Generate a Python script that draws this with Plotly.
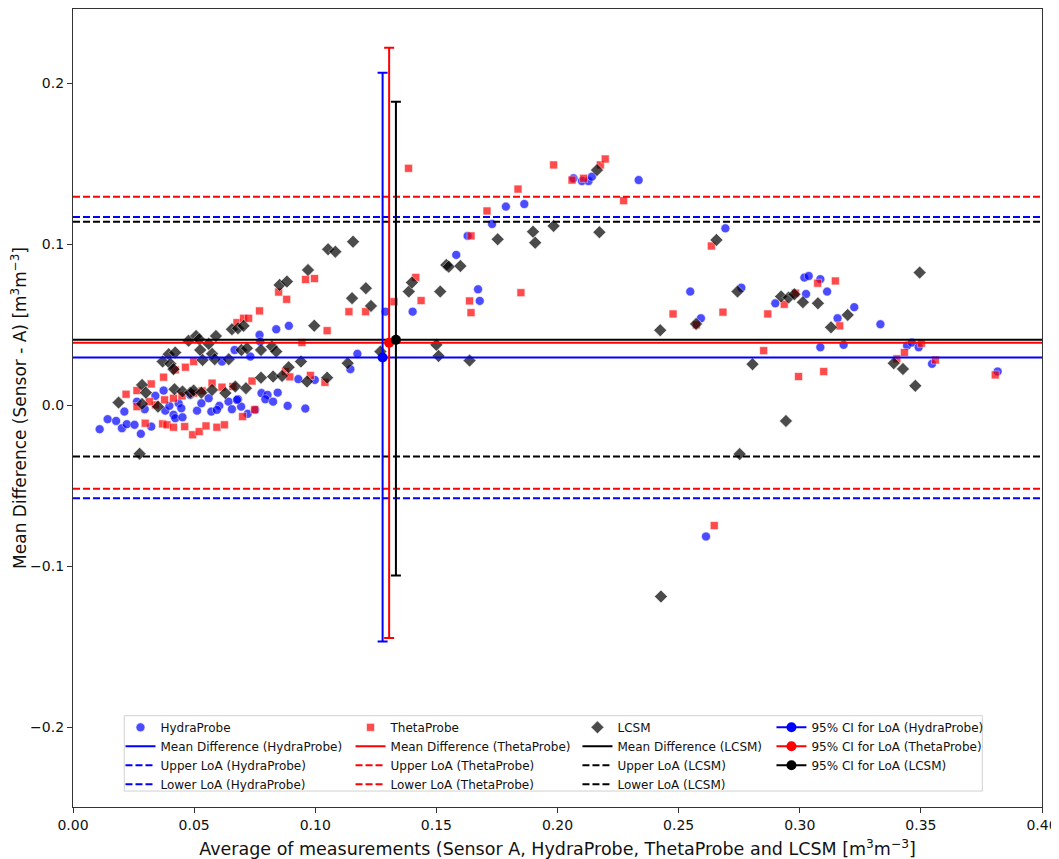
import plotly.graph_objects as go

# HydraProbe: average of measurements vs difference
hydra_x = [0.0110, 0.0143, 0.0178, 0.0202, 0.0212, 0.0222, 0.0254, 0.0280, 0.0323, 0.0264,
           0.0296, 0.0340, 0.0374, 0.0381, 0.0398, 0.0415, 0.0422, 0.0452, 0.0436, 0.0447,
           0.0484, 0.0512, 0.0530, 0.0560, 0.0571, 0.0604, 0.0594, 0.0642, 0.0681, 0.0656,
           0.0694, 0.0615, 0.0667, 0.0732, 0.0721, 0.0752, 0.0770, 0.0773, 0.0839, 0.0891,
           0.0778, 0.0803, 0.0794, 0.0845, 0.0826, 0.0886, 0.0959, 0.0930, 0.0998, 0.1145,
           0.1174, 0.1290, 0.1402, 0.1582, 0.1629, 0.1672, 0.1679, 0.1730, 0.1787, 0.1863,
           0.2066, 0.2101, 0.2128, 0.2142, 0.2335, 0.2693, 0.2548, 0.2592, 0.2759, 0.2899,
           0.3019, 0.3037, 0.3085, 0.3026, 0.3113, 0.3225, 0.3156, 0.3333, 0.3085, 0.3181,
           0.3443, 0.3463, 0.3491, 0.3546, 0.3817, 0.2613, 0.0677]
hydra_y = [-0.0149, -0.0087, -0.0098, -0.0143, -0.0040, -0.0118, -0.0122, -0.0178, -0.0133, 0.0022,
           -0.0025, 0.0058, 0.0091, -0.0034, -0.0004, -0.0060, -0.0081, -0.0075, 0.0012, -0.0019,
           0.0064, -0.0034, 0.0012, 0.0043, -0.0040, -0.0004, -0.0029, 0.0022, 0.0037, -0.0025,
           -0.0009, 0.0271, 0.0343, 0.0302, -0.0054, -0.0029, 0.0437, 0.0395, 0.0472, 0.0493,
           0.0075, 0.0064, 0.0037, 0.0078, 0.0022, -0.0004, -0.0021, 0.0162, 0.0157, 0.0224,
           0.0319, 0.0581, 0.0581, 0.0934, 0.1052, 0.0720, 0.0648, 0.1126, 0.1234, 0.1250,
           0.1410, 0.1393, 0.1393, 0.1420, 0.1399, 0.1099, 0.0706, 0.0540, 0.0730, 0.0633,
           0.0793, 0.0803, 0.0783, 0.0691, 0.0706, 0.0609, 0.0540, 0.0503, 0.0360, 0.0375,
           0.0370, 0.0389, 0.0360, 0.0257, 0.0209, -0.0816, 0.0033]

# ThetaProbe
theta_x = [0.0219, 0.0264, 0.0264, 0.0298, 0.0323, 0.0340, 0.0374, 0.0370, 0.0388, 0.0415,
           0.0422, 0.0464, 0.0498, 0.0461, 0.0494, 0.0521, 0.0549, 0.0594, 0.0625, 0.0700,
           0.0750, 0.0739, 0.0574, 0.0615, 0.0660, 0.0315, 0.0378, 0.0415, 0.0450, 0.0498,
           0.0533, 0.0677, 0.0704, 0.0725, 0.0770, 0.0945, 0.1049, 0.0849, 0.0882, 0.0960,
           0.0997, 0.1139, 0.1208, 0.1325, 0.1385, 0.1415, 0.1437, 0.0980, 0.1040, 0.0877,
           0.0895, 0.1637, 0.1643, 0.1643, 0.1709, 0.1837, 0.1849, 0.1984, 0.2060, 0.2108,
           0.2177, 0.2197, 0.2273, 0.2635, 0.2477, 0.2573, 0.2683, 0.2851, 0.2868, 0.2936,
           0.2982, 0.2995, 0.3074, 0.3147, 0.3099, 0.3165, 0.3401, 0.3432, 0.3502, 0.3560,
           0.3807, 0.2647]
theta_y = [0.0068, 0.0091, -0.0009, -0.0112, 0.0132, 0.0002, 0.0174, -0.0116, -0.0122, -0.0137,
           0.0219, 0.0236, 0.0271, -0.0133, -0.0184, -0.0164, -0.0129, -0.0137, -0.0122, -0.0071,
           -0.0028, 0.0150, 0.0137, 0.0112, 0.0116, 0.0022, 0.0033, 0.0043, 0.0058, 0.0075,
           0.0089, 0.0513, 0.0540, 0.0540, 0.0586, 0.0389, 0.0463, 0.0703, 0.0658, 0.0781,
           0.0787, 0.0581, 0.0581, 0.0643, 0.1472, 0.0794, 0.0650, 0.0185, 0.0142, 0.0209,
           0.0176, 0.0648, 0.0575, 0.1052, 0.1207, 0.1343, 0.0699, 0.1493, 0.1399, 0.1410,
           0.1493, 0.1530, 0.1271, 0.0989, 0.0567, 0.0499, 0.0578, 0.0339, 0.0567, 0.0627,
           0.0696, 0.0178, 0.0758, 0.0772, 0.0209, 0.0493, 0.0288, 0.0327, 0.0385, 0.0281,
           0.0188, -0.0748]

# LCSM
lcsm_x = [0.0188, 0.0285, 0.0285, 0.0301, 0.0351, 0.0370, 0.0395, 0.0422, 0.0402, 0.0415,
          0.0419, 0.0452, 0.0484, 0.0498, 0.0530, 0.0574, 0.0629, 0.0670, 0.0714, 0.0477,
          0.0508, 0.0521, 0.0525, 0.0560, 0.0590, 0.0535, 0.0574, 0.0585, 0.0643, 0.0656,
          0.0681, 0.0704, 0.0695, 0.0718, 0.1156, 0.1053, 0.1083, 0.0970, 0.0853, 0.0883,
          0.1209, 0.1152, 0.1230, 0.0996, 0.0776, 0.0821, 0.0839, 0.0941, 0.1134, 0.1269,
          0.0776, 0.0826, 0.0863, 0.0890, 0.0966, 0.1049, 0.0275, 0.1386, 0.1399, 0.1516,
          0.1541, 0.1551, 0.1599, 0.1753, 0.1899, 0.1908, 0.1984, 0.2163, 0.2173, 0.1500,
          0.1509, 0.1637, 0.2424, 0.2656, 0.2572, 0.2743, 0.2805, 0.2923, 0.2954, 0.2978,
          0.3013, 0.3075, 0.3129, 0.3198, 0.3495, 0.3388, 0.3426, 0.3477, 0.2943, 0.2752,
          0.2427]
lcsm_y = [0.0016, 0.0126, 0.0008, 0.0078, -0.0009, 0.0271, 0.0317, 0.0327, 0.0257, 0.0224,
          0.0099, 0.0085, 0.0078, 0.0091, 0.0078, 0.0095, 0.0075, 0.0116, 0.0106, 0.0401,
          0.0430, 0.0410, 0.0343, 0.0381, 0.0430, 0.0281, 0.0319, 0.0286, 0.0286, 0.0472,
          0.0478, 0.0493, 0.0343, 0.0354, 0.1016, 0.0969, 0.0954, 0.0840, 0.0747, 0.0768,
          0.0727, 0.0665, 0.0617, 0.0494, 0.0343, 0.0364, 0.0333, 0.0271, 0.0261, 0.0333,
          0.0171, 0.0178, 0.0182, 0.0236, 0.0147, 0.0171, -0.0302, 0.0706, 0.0762, 0.0706,
          0.0871, 0.0861, 0.0865, 0.1031, 0.1078, 0.1010, 0.1114, 0.1461, 0.1075, 0.0375,
          0.0306, 0.0277, 0.0466, 0.1027, 0.0505, 0.0706, 0.0255, 0.0675, 0.0669, 0.0689,
          0.0640, 0.0633, 0.0484, 0.0561, 0.0824, 0.0261, 0.0225, 0.0120, -0.0098, -0.0304,
          -0.1189]

sensors = ["HydraProbe", "ThetaProbe", "LCSM"]
colors = ["blue", "red", "black"]
symbols = ["circle", "square", "diamond"]
marker_sizes = [9, 8, 10]
mean_diff = [0.0296, 0.0388, 0.0406]
upper_loa = [0.1170, 0.1296, 0.1140]
lower_loa = [-0.0578, -0.0520, -0.0319]
ci_x = [0.1278, 0.1305, 0.1333]
ci_top = [0.2066, 0.2221, 0.1886]
ci_bottom = [-0.1468, -0.1447, -0.1058]

xs = [hydra_x, theta_x, lcsm_x]
ys = [hydra_y, theta_y, lcsm_y]
legends = ["legend", "legend2", "legend3"]

fig = go.Figure()

for i, name in enumerate(sensors):
    fig.add_trace(go.Scatter(
        x=xs[i], y=ys[i], mode="markers", name=name, legend=legends[i],
        marker=dict(color=colors[i], symbol=symbols[i], size=marker_sizes[i], opacity=0.7,
                    line=dict(color="white", width=0.6)),
    ))

for i, name in enumerate(sensors):
    x_span = [0, 0.40]
    fig.add_trace(go.Scatter(x=x_span, y=[mean_diff[i]] * 2, mode="lines", legend=legends[i],
                             name=f"Mean Difference ({name})",
                             line=dict(color=colors[i], width=2)))
    fig.add_trace(go.Scatter(x=x_span, y=[upper_loa[i]] * 2, mode="lines", legend=legends[i],
                             name=f"Upper LoA ({name})",
                             line=dict(color=colors[i], width=2, dash="7px,3px")))
    fig.add_trace(go.Scatter(x=x_span, y=[lower_loa[i]] * 2, mode="lines", legend=legends[i],
                             name=f"Lower LoA ({name})",
                             line=dict(color=colors[i], width=2, dash="7px,3px")))

for i, name in enumerate(sensors):
    fig.add_trace(go.Scatter(
        x=[ci_x[i]], y=[mean_diff[i]], mode="lines+markers", legend="legend4",
        name=f"95% CI for LoA ({name})",
        marker=dict(color=colors[i], size=10),
        line=dict(color=colors[i], width=2),
        error_y=dict(type="data", symmetric=False,
                     array=[ci_top[i] - mean_diff[i]],
                     arrayminus=[mean_diff[i] - ci_bottom[i]],
                     color=colors[i], thickness=2, width=5),
    ))

# the page adds an 8px body margin, so the figure is a bit smaller than the window
leg_common = dict(orientation="v", yanchor="top", xanchor="left", y=0.1180,
                  bgcolor="rgba(0,0,0,0)", borderwidth=0,
                  font=dict(family="DejaVu Sans", size=12, color="#111"))

axis_common = dict(showline=True, linecolor="#333", linewidth=1.3, mirror=True,
                   ticks="outside", ticklen=5, tickcolor="#333", showgrid=False,
                   zeroline=False, automargin=False, tickfont=dict(size=14, color="#111"))

fig.update_layout(
    width=1051, height=851,
    margin=dict(l=65, r=17, t=1, b=52),
    paper_bgcolor="white", plot_bgcolor="white",
    font=dict(family="DejaVu Sans", color="#111"),
    legend=dict(x=0.0490, **leg_common),
    legend2=dict(x=0.2864, **leg_common),
    legend3=dict(x=0.5206, **leg_common),
    legend4=dict(x=0.7208, **leg_common),
    xaxis=dict(range=[0, 0.40], dtick=0.05, tickformat=".2f",
               title=dict(text="Average of measurements (Sensor A, HydraProbe, ThetaProbe and LCSM [m<sup>3</sup>m<sup>−3</sup>]",
                          font=dict(size=17.5), standoff=12),
               **axis_common),
    yaxis=dict(range=[-0.2497, 0.2462], dtick=0.1, tickformat=".1f",
               title=dict(text="Mean Difference (Sensor - A) [m<sup>3</sup>m<sup>−3</sup>]",
                          font=dict(size=17), standoff=3),
               **axis_common),
    shapes=[dict(type="rect", xref="paper", yref="paper",
                 x0=0.0529, x1=0.9384, y0=0.0200, y1=0.1144,
                 line=dict(color="#d0d0d0", width=1), fillcolor="rgba(255,255,255,0.8)",
                 layer="below")],
)

fig.write_html("out.html")
